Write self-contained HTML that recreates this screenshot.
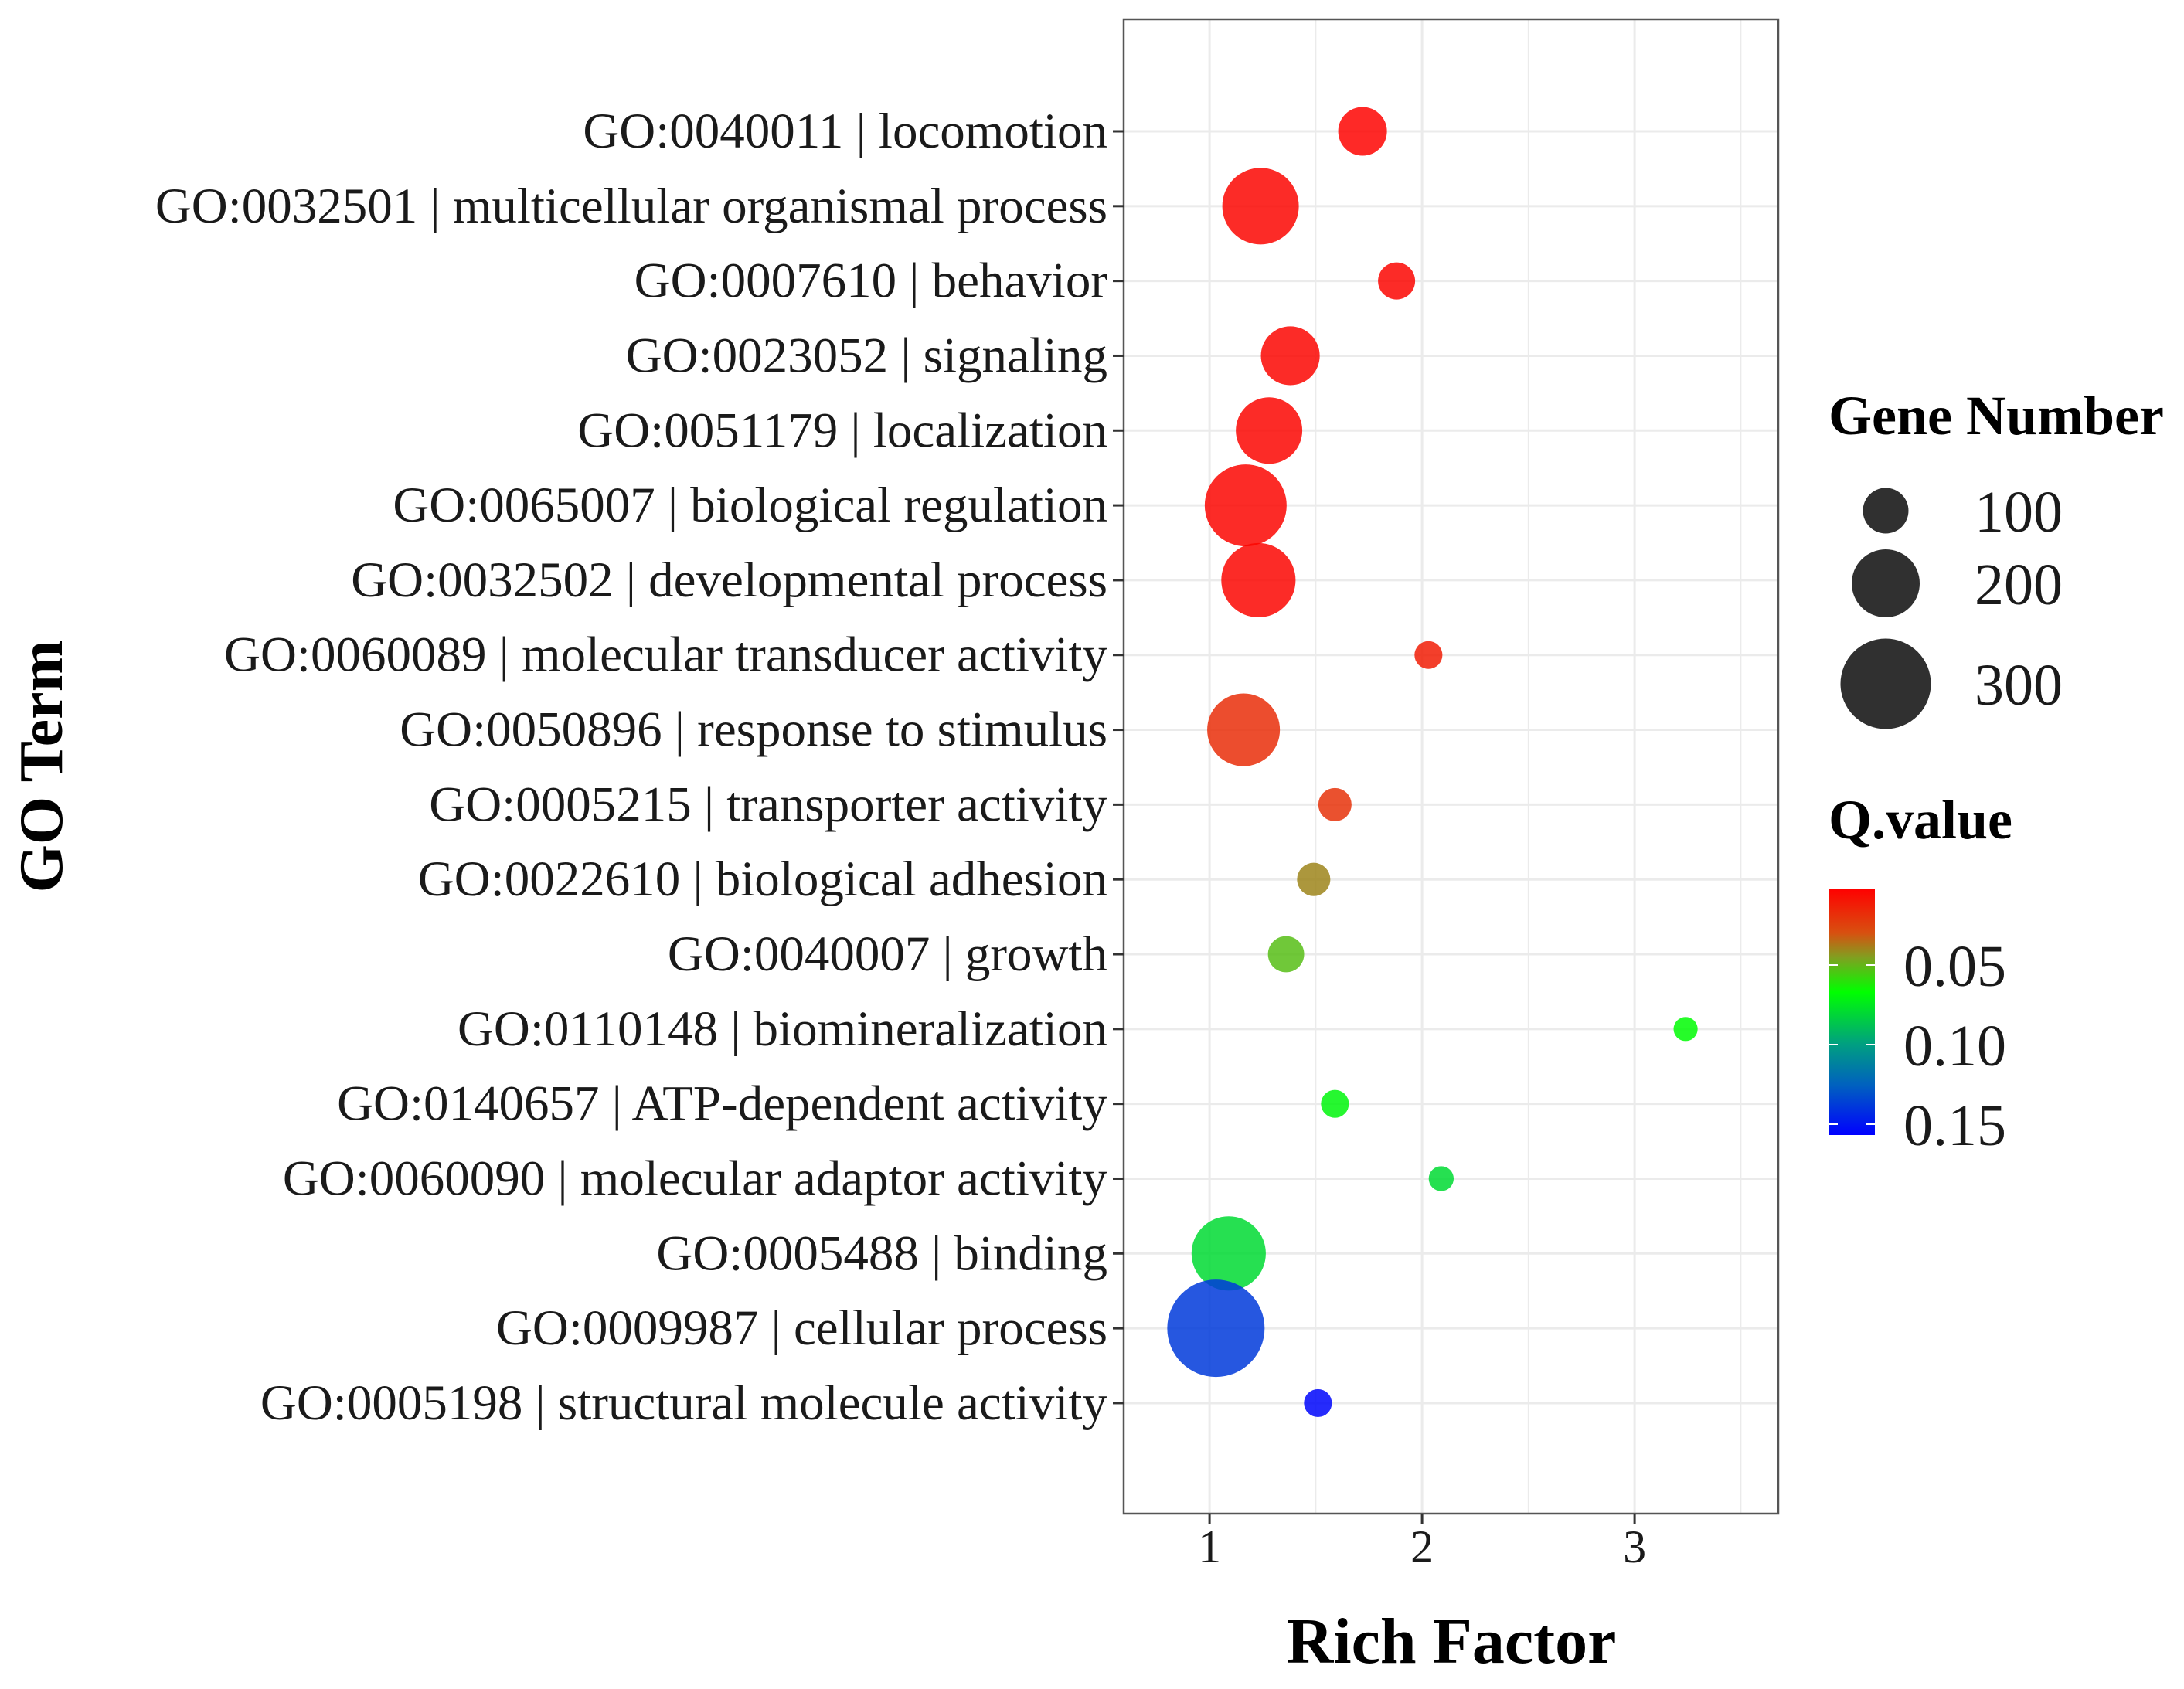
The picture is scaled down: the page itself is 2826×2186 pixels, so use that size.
<!DOCTYPE html>
<html><head><meta charset="utf-8"><style>
html,body{margin:0;padding:0;background:#fff;}
svg{display:block;font-family:"Liberation Serif",serif;}
</style></head><body>
<svg id="chart" width="2826" height="2186" viewBox="0 0 2826 2186" xmlns="http://www.w3.org/2000/svg">
<defs>
<linearGradient id="qgrad" x1="0" y1="0" x2="0" y2="1">
<stop offset="0" stop-color="#ff0000"/>
<stop offset="0.18" stop-color="#d85010"/>
<stop offset="0.28" stop-color="#80a020"/>
<stop offset="0.42" stop-color="#00ff00"/>
<stop offset="0.63" stop-color="#00a080"/>
<stop offset="0.8" stop-color="#0060c0"/>
<stop offset="1" stop-color="#0000ff"/>
</linearGradient>
</defs>
<g id="grid"></g>
<g id="points"></g>
<rect x="1454" y="25" width="847" height="1934" fill="none" stroke="#555" stroke-width="2.5"/>
<g id="axes"></g>
<text x="1878" y="2152" font-size="84" font-weight="bold" text-anchor="middle">Rich Factor</text>
<text transform="translate(80,992) rotate(-90)" font-size="80" font-weight="bold" text-anchor="middle">GO Term</text>
<g>
<text x="2366" y="562" font-size="72" font-weight="bold">Gene Number</text>
<g id="sizeLegend"></g>
</g>
<g>
<text x="2366" y="1085" font-size="72" font-weight="bold">Q.value</text>
<rect x="2366" y="1150" width="60" height="319" fill="url(#qgrad)"/>
<g id="colorLegend"></g>
</g>
</svg>
<script>
const terms = ["GO:0040011 | locomotion","GO:0032501 | multicellular organismal process","GO:0007610 | behavior","GO:0023052 | signaling","GO:0051179 | localization","GO:0065007 | biological regulation","GO:0032502 | developmental process","GO:0060089 | molecular transducer activity","GO:0050896 | response to stimulus","GO:0005215 | transporter activity","GO:0022610 | biological adhesion","GO:0040007 | growth","GO:0110148 | biomineralization","GO:0140657 | ATP-dependent activity","GO:0060090 | molecular adaptor activity","GO:0005488 | binding","GO:0009987 | cellular process","GO:0005198 | structural molecule activity"];
const richFactor = [1.72,1.24,1.88,1.38,1.28,1.17,1.23,2.03,1.16,1.59,1.49,1.36,3.24,1.59,2.09,1.09,1.03,1.51];
const geneNumber = [114,238,62,159,193,262,228,21,221,45,45,58,4,21,8,228,331,21];
const qValue = [0.003,0.004,0.004,0.004,0.004,0.004,0.004,0.012,0.018,0.02,0.04,0.052,0.068,0.07,0.08,0.08,0.138,0.155];
const xTicks = [1,2,3];
const sizeLegendValues = [100,200,300];
const qTicks = [0.05,0.10,0.15];
const qTickLabels = ["0.05","0.10","0.15"];

const NS="http://www.w3.org/2000/svg";
const X0=1454,X1=2301,xMin=0.596,xMax=3.676;
const x=v=>X0+(v-xMin)/(xMax-xMin)*(X1-X0);
const rowY=i=>170+i*96.82;
const r=n=>15+0.145*n;
const qY=q=>1249+(q-0.05)/0.05*103;
const stops=[[0.002,[255,0,0]],[0.03,[216,80,16]],[0.045,[128,160,32]],[0.067,[0,255,0]],[0.1,[0,160,128]],[0.125,[0,96,192]],[0.157,[0,0,255]]];
function col(q){
  if(q<=stops[0][0])return "rgb(255,0,0)";
  for(let i=1;i<stops.length;i++){if(q<=stops[i][0]){const a=stops[i-1],b=stops[i],t=(q-a[0])/(b[0]-a[0]);
    return "rgb("+a[1].map((c,k)=>Math.round(c+(b[1][k]-c)*t)).join(",")+")";}}
  return "rgb(0,0,255)";
}
function mk(tag,attrs,parent,txt){const e=document.createElementNS(NS,tag);for(const k in attrs)e.setAttribute(k,attrs[k]);if(txt!==undefined)e.textContent=txt;parent.appendChild(e);return e;}
const grid=document.getElementById('grid'),pts=document.getElementById('points'),axes=document.getElementById('axes');
for(let v=1;v<=3.5;v+=0.5){
  const g=mk('line',{x1:x(v),x2:x(v),y1:25,y2:1959,stroke:'#ebebeb','stroke-width':v%1===0?3:1.5},grid);
  
  
}
terms.forEach((t,i)=>{
  const y=rowY(i);
  const g=mk('line',{x1:X0,x2:X1,y1:y,y2:y,stroke:'#ebebeb','stroke-width':3},grid);
  
  
  const tk=mk('line',{x1:1440,x2:1454,y1:y,y2:y,stroke:'#333','stroke-width':3},axes);
  
  
  const lb=mk('text',{x:1433,y:y+21,'font-size':65,'text-anchor':'end',fill:'#1a1a1a'},axes,t);
  
  
  const c=mk('circle',{cx:x(richFactor[i]),cy:y,r:r(geneNumber[i]),fill:col(qValue[i]),'fill-opacity':0.85},pts);
  
  
});
xTicks.forEach(v=>{
  const tk=mk('line',{x1:x(v),x2:x(v),y1:1959,y2:1972,stroke:'#333','stroke-width':3},axes);
  
  
  const lb=mk('text',{x:x(v),y:2022,'font-size':60,'text-anchor':'middle',fill:'#1a1a1a'},axes,String(v));
  
  
});
const sl=document.getElementById('sizeLegend');
const sY=[661,755,885];
sizeLegendValues.forEach((n,i)=>{
  const c=mk('circle',{cx:2440,cy:sY[i],r:r(n),fill:'#1a1a1a','fill-opacity':0.9},sl);
  
  
  const t=mk('text',{x:2555,y:sY[i]+27,'font-size':76,fill:'#1a1a1a'},sl,String(n));
  
  
});
const cl=document.getElementById('colorLegend');
qTicks.forEach((q,i)=>{
  const y=qY(q);
  const a=mk('line',{x1:2366,x2:2378,y1:y,y2:y,stroke:'#fff','stroke-width':2},cl);
  
  
  const b=mk('line',{x1:2414,x2:2426,y1:y,y2:y,stroke:'#fff','stroke-width':2},cl);
  
  
  const t=mk('text',{x:2463,y:y+27,'font-size':76,fill:'#1a1a1a'},cl,qTickLabels[i]);
  
  
});
</script>
</body></html>
